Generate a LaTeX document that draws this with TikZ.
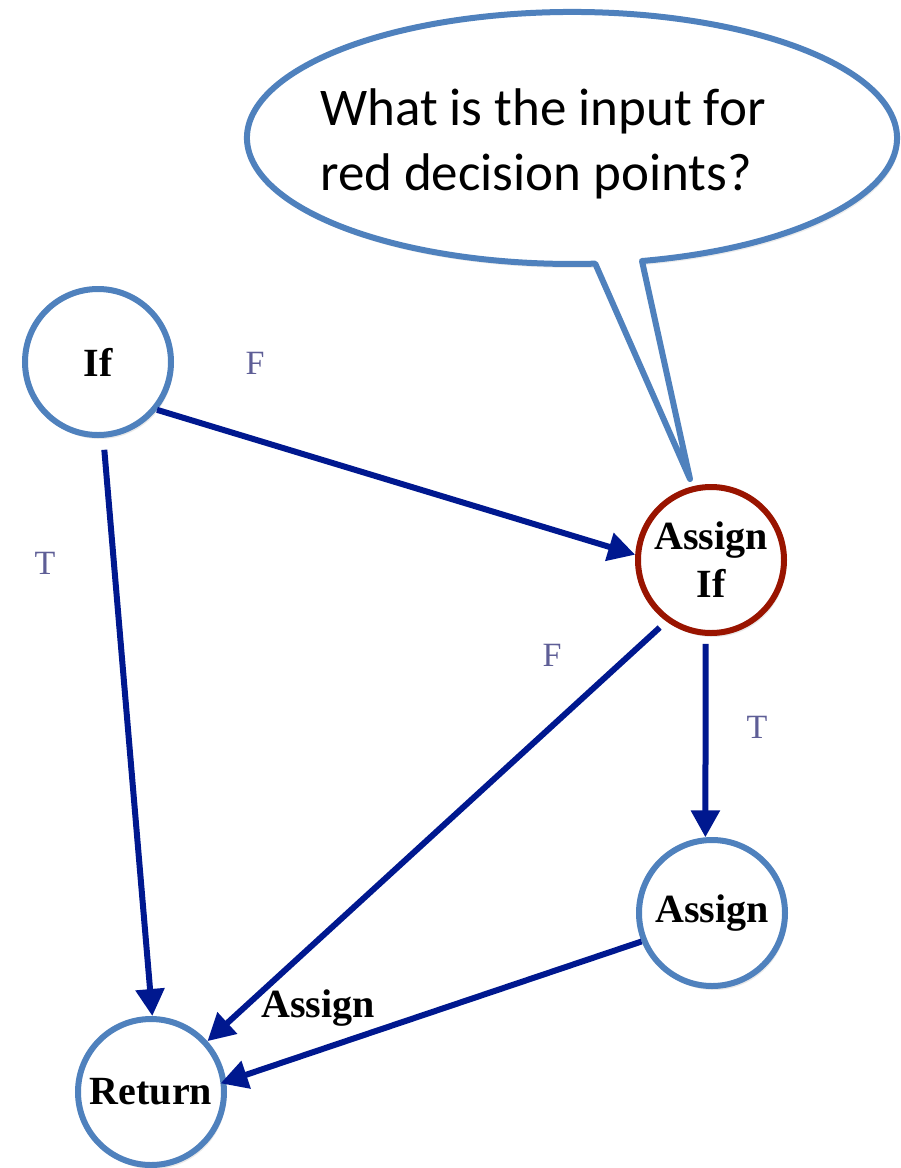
\documentclass[tikz,border=0pt]{standalone}
\usepackage{fontspec}
\setmainfont{Liberation Serif}
\newfontfamily\calloutfont{Carlito}
\usetikzlibrary{arrows.meta,shadows}
\definecolor{nodeblue}{RGB}{79,129,189}
\definecolor{decred}{RGB}{153,20,0}
\definecolor{edgeblue}{RGB}{0,24,143}
\definecolor{labelgray}{RGB}{94,94,150}

\begin{document}
\begin{tikzpicture}[x=1pt,y=1pt,
  stmt/.style={circle, draw=nodeblue, line width=6pt, fill=white,
    minimum size=146pt, inner sep=0pt, align=center,
    font=\fontsize{40}{48}\selectfont\bfseries,
    drop shadow={opacity=0.18, shadow xshift=2pt, shadow yshift=-4pt}},
  decision/.style={stmt, draw=decred},
  flow/.style={draw=edgeblue, line width=6pt,
    -{Triangle[length=27pt,width=28pt]}},
  branch/.style={font=\fontsize{34}{40}\selectfont, text=labelgray, inner sep=0pt},
  edgetext/.style={font=\fontsize{40}{48}\selectfont\bfseries, inner sep=0pt},
  bubble/.style={draw=nodeblue, line width=6pt, fill=white, line join=round},
  bubbletext/.style={font=\calloutfont\fontsize{53}{65}\selectfont, align=left, inner sep=0pt}
]
\useasboundingbox (0,0) rectangle (901,-1168);

% speech bubble: ellipse with a tail pointing down to the decision node
\draw[bubble, drop shadow={opacity=0.15, shadow xshift=2pt, shadow yshift=-4pt}]
  (642,-261) arc[start angle=-77.56, end angle=274.1, x radius=325, y radius=126]
  -- (690,-479) -- cycle;
\node[bubbletext, anchor=base west] (question) at (320,-190)
  {What is the input for\\red decision points?};

% statement nodes
\node[stmt] (if) at (98,-362) {If};
\node[decision] (ai) at (711,-560) {Assign\\If};
\node[stmt] (as) at (712,-913) {Assign};
\node[stmt] (ret) at (151,-1092) {Return};

% control-flow edges
\draw[flow] (if.-39) -- (ai.176);
\draw[flow, shorten <=12pt] (if.-86) -- (ret.89);
\draw[flow, shorten <=9pt] (ai.234) -- (ret.42);
\draw[flow, shorten <=8pt] (ai.266) -- (as.95);
\draw[flow, shorten >=-6pt] (as.202) -- (ret.8);

% branch labels
\node[branch] (f1) at (255,-363) {F};
\node[branch] (t1) at (45,-563) {T};
\node[branch] (f2) at (552,-655) {F};
\node[branch] (t2) at (757,-727) {T};
\node[edgetext, anchor=base] (al) at (318,-1017) {Assign};
\end{tikzpicture}
\end{document}
